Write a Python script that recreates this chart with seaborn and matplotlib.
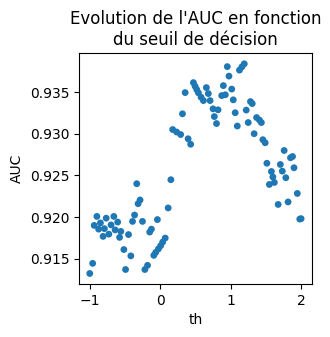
import matplotlib
matplotlib.use("Agg")
import matplotlib.pyplot as plt
import seaborn as sns
import pandas as pd

th = [-1.000, -0.959, -0.937, -0.899, -0.874, -0.849, -0.811, -0.792, -0.767, -0.729,
      -0.698, -0.658, -0.640, -0.604, -0.577, -0.559, -0.516, -0.492, -0.450, -0.417,
      -0.393, -0.364, -0.333, -0.314, -0.286, -0.252, -0.218, -0.180, -0.149, -0.125,
      -0.091, -0.064, -0.040, -0.025, 0.007, 0.035, 0.071, 0.113, 0.151, 0.177,
      0.233, 0.290, 0.316, 0.354, 0.396, 0.432, 0.471, 0.495, 0.519, 0.542,
      0.580, 0.613, 0.655, 0.683, 0.708, 0.750, 0.768, 0.799, 0.821, 0.873,
      0.896, 0.924, 0.952, 0.976, 1.015, 1.037, 1.064, 1.094, 1.125, 1.160,
      1.193, 1.221, 1.249, 1.281, 1.306, 1.333, 1.368, 1.408, 1.436, 1.457,
      1.490, 1.514, 1.549, 1.578, 1.599, 1.620, 1.674, 1.705, 1.733, 1.759,
      1.783, 1.815, 1.849, 1.878, 1.899, 1.946, 1.981, 2.000]

auc = [0.91322, 0.91444, 0.91900, 0.92008, 0.91855, 0.91930, 0.91768, 0.91861, 0.91987, 0.91795,
       0.91906, 0.92008, 0.91846, 0.91940, 0.91756, 0.91828, 0.91610, 0.91370, 0.91790, 0.91534,
       0.91948, 0.92025, 0.92401, 0.92161, 0.92206, 0.91948, 0.91370, 0.91420, 0.91820, 0.91855,
       0.91540, 0.91576, 0.91970, 0.91618, 0.91657, 0.91700, 0.91748, 0.92110, 0.92449, 0.93052,
       0.93022, 0.92992, 0.93241, 0.93496, 0.92941, 0.92875, 0.93616, 0.93572, 0.93532, 0.93493,
       0.93440, 0.93400, 0.93556, 0.93484, 0.93400, 0.93301, 0.93208, 0.93124, 0.93289, 0.93460,
       0.93580, 0.93470, 0.93808, 0.93694, 0.93538, 0.93409, 0.93254, 0.93094, 0.93766, 0.93806,
       0.93842, 0.93286, 0.93136, 0.93388, 0.93364, 0.93002, 0.93196, 0.93166, 0.93136, 0.92930,
       0.92893, 0.92647, 0.92392, 0.92548, 0.92482, 0.92416, 0.92152, 0.92632, 0.92552, 0.92800,
       0.92473, 0.92182, 0.92713, 0.92728, 0.92593, 0.92284, 0.91976, 0.91981]

df = pd.DataFrame({"th": th, "AUC": auc})

fig = plt.figure(figsize=(3.30, 3.37), dpi=100)
ax = fig.add_axes([0.240, 0.1573, 0.7045, 0.6845])
sns.scatterplot(data=df, x="th", y="AUC", ax=ax, s=24, color="#1f77b4",
                edgecolor="none", linewidth=0)
ax.set_title("Evolution de l'AUC en fonction\ndu seuil de décision")
ax.set_xlabel("th")
ax.set_ylabel("AUC")
fig.savefig("out.png", dpi=100)
